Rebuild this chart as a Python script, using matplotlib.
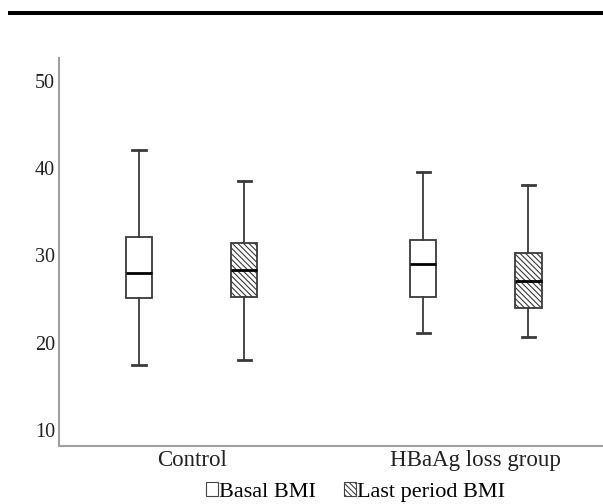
import matplotlib
matplotlib.use("Agg")
import matplotlib.pyplot as plt
from matplotlib.patches import Patch, Rectangle

plt.rcParams['font.family'] = ['Liberation Serif', 'DejaVu Serif']
plt.rcParams['hatch.linewidth'] = 0.8

groups = ['Control', 'HBaAg loss group']
series = ['Basal BMI', 'Last period BMI']

# whisker low, q1, median, q3, whisker high
basal_low = [17.4, 21.1]
basal_q1 = [25.1, 25.2]
basal_med = [28.0, 29.0]
basal_q3 = [32.1, 31.8]
basal_high = [42.1, 39.5]

last_low = [18.0, 20.7]
last_q1 = [25.2, 24.0]
last_med = [28.3, 27.1]
last_q3 = [31.4, 30.3]
last_high = [38.5, 38.1]

y_ticks = [10, 20, 30, 40, 50]

fig = plt.figure(figsize=(6.03, 5.04), dpi=100)
ax = fig.add_axes([0.098, 0.115, 0.901, 0.770])

offset = 0.185
width = 0.092
edge = '#3a3a3a'


def make_stats(low, q1, med, q3, high):
    out = []
    for i in range(len(low)):
        out.append({'whislo': low[i], 'q1': q1[i], 'med': med[i],
                    'q3': q3[i], 'whishi': high[i], 'fliers': []})
    return out


pos = list(range(1, len(groups) + 1))
line_kw = dict(color=edge, linewidth=1.3)

b1 = ax.bxp(make_stats(basal_low, basal_q1, basal_med, basal_q3, basal_high),
            positions=[p - offset for p in pos], widths=width, patch_artist=True,
            boxprops=dict(facecolor='white', edgecolor=edge, linewidth=1.3),
            medianprops=dict(color='black', linewidth=2),
            whiskerprops=line_kw, capprops=dict(color=edge, linewidth=2),
            capwidths=width * 0.5, manage_ticks=False)
b2 = ax.bxp(make_stats(last_low, last_q1, last_med, last_q3, last_high),
            positions=[p + offset for p in pos], widths=width, patch_artist=True,
            boxprops=dict(facecolor='white', edgecolor=edge, linewidth=1.3),
            medianprops=dict(color='black', linewidth=2),
            whiskerprops=line_kw, capprops=dict(color=edge, linewidth=2),
            capwidths=width * 0.5, manage_ticks=False)
for box in b2['boxes']:
    box.set_hatch('\\\\\\\\\\\\')

ax.set_xlim(0.534, 2.445)
ax.set_ylim(8.17, 52.6)
ax.set_yticks(y_ticks)
ax.set_xticks(pos)
ax.set_xticklabels(groups)
ax.tick_params(axis='both', length=0, colors='#222222')
ax.tick_params(axis='x', labelsize=16.5, pad=3)
ax.tick_params(axis='y', labelsize=14.5, pad=3)
for s in ['top', 'right']:
    ax.spines[s].set_visible(False)
for s in ['left', 'bottom']:
    ax.spines[s].set_color('#a0a0a0')
    ax.spines[s].set_linewidth(1.5)

handles = [Patch(facecolor='white', edgecolor='#444444', linewidth=0.8),
           Patch(facecolor='white', edgecolor='#444444', linewidth=0.8, hatch='\\\\\\\\\\\\')]
fig.legend(handles, series, loc='center', bbox_to_anchor=(0.59, 0.024),
           ncol=2, frameon=False, fontsize=16, handlelength=0.55, handleheight=0.55,
           handletextpad=0.05, columnspacing=1.25)

# heavy rule at the top of the figure
fig.add_artist(Rectangle((8 / 603, 1 - 15 / 504), 1, 4 / 504,
                         transform=fig.transFigure, color='black', lw=0))

fig.savefig('out.png', dpi=100)
